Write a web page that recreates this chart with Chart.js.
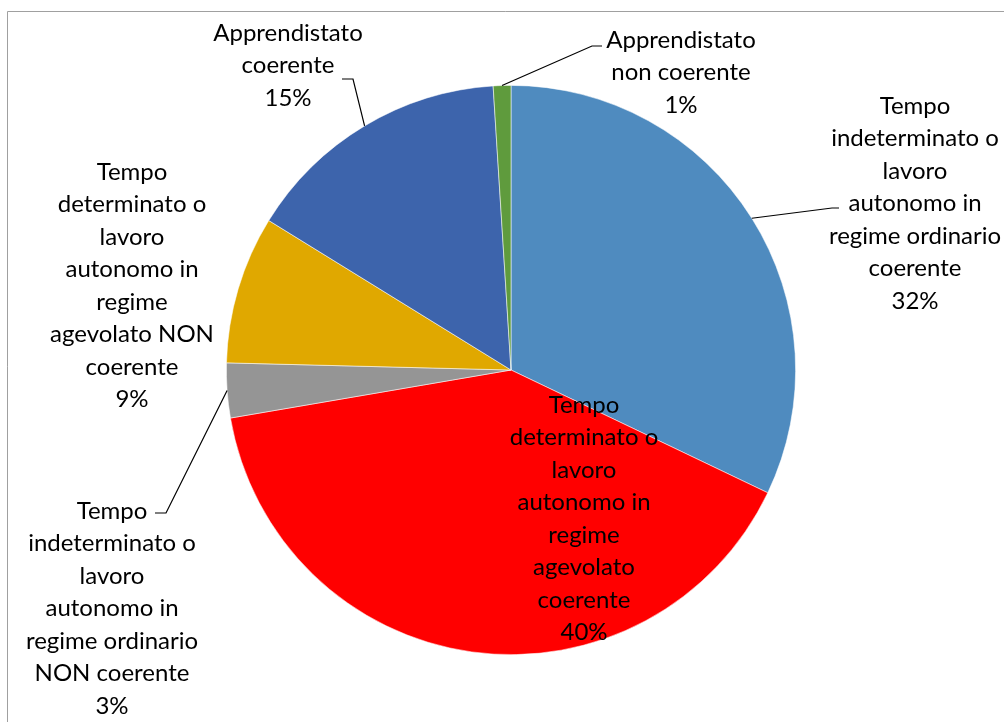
<!DOCTYPE html>
<html>
<head>
<meta charset="utf-8">
<script src="https://cdn.jsdelivr.net/npm/chart.js@4"></script>
<style>
html,body{margin:0;padding:0;background:#fff;overflow:hidden;}
#wrap{position:relative;width:1004px;height:722px;}
</style>
</head>
<body>
<div id="wrap"><canvas id="c" width="1004" height="722"></canvas></div>
<script>
const categories = [
  'Tempo indeterminato o lavoro autonomo in regime ordinario coerente',
  'Tempo determinato o lavoro autonomo in regime agevolato coerente',
  'Tempo indeterminato o lavoro autonomo in regime ordinario NON coerente',
  'Tempo determinato o lavoro autonomo in regime agevolato NON coerente',
  'Apprendistato coerente',
  'Apprendistato non coerente'
];
const labelLines = [
  ['Tempo','indeterminato o','lavoro','autonomo in','regime ordinario','coerente'],
  ['Tempo','determinato o','lavoro','autonomo in','regime','agevolato','coerente'],
  ['Tempo','indeterminato o','lavoro','autonomo in','regime ordinario','NON coerente'],
  ['Tempo','determinato o','lavoro','autonomo in','regime','agevolato NON','coerente'],
  ['Apprendistato','coerente'],
  ['Apprendistato','non coerente']
];
const values = [32.1, 40.2, 3.1, 8.4, 15.2, 1.0];
const percentLabels = ['32%','40%','3%','9%','15%','1%'];
const colors = ['#4F8BBF','#FF0000','#959595','#E0A800','#3D64AC','#5F9B3D'];

// label layout: centre x, first line centre y
const labelPos = [[915,106],[584,405],[112,511],[132,172],[288,33],[681,40]];
// leader elbows (null = no leader)
const leaders = [
  [[832,208],[839,208]],
  null,
  [[166,513],[155,513]],
  null,
  [[353,79],[342,79]],
  [[592,46],[602,46]]
];
const lineH = 32.5;
const FONT = '24px Lato, "Open Sans", sans-serif';

const framePlugin = {
  id:'frame',
  beforeDraw(chart){
    const ctx = chart.ctx;
    ctx.save();
    ctx.fillStyle = '#fff';
    ctx.fillRect(0,0,chart.width,chart.height);
    ctx.strokeStyle = '#A0A0A0';
    ctx.lineWidth = 1;
    ctx.beginPath();
    ctx.moveTo(7.5, chart.height);
    ctx.lineTo(7.5, 11.5);
    ctx.lineTo(chart.width, 11.5);
    ctx.stroke();
    ctx.restore();
  }
};

const labelPlugin = {
  id:'pieLabels',
  afterDatasetsDraw(chart){
    const ctx = chart.ctx;
    const meta = chart.getDatasetMeta(0);
    ctx.save();
    meta.data.forEach((arc, i) => {
      const p = arc.getProps(['x','y','startAngle','endAngle','outerRadius'], true);
      const mid = (p.startAngle + p.endAngle)/2;
      const ex = p.x + Math.cos(mid)*p.outerRadius;
      const ey = p.y + Math.sin(mid)*p.outerRadius;
      if (leaders[i]) {
        ctx.strokeStyle = '#000';
        ctx.lineWidth = 1.2;
        ctx.beginPath();
        ctx.moveTo(ex, ey);
        leaders[i].forEach(pt => ctx.lineTo(pt[0], pt[1]));
        ctx.stroke();
      }
      const lines = labelLines[i].concat([percentLabels[i]]);
      ctx.font = FONT;
      ctx.fillStyle = '#000';
      ctx.textAlign = 'center';
      ctx.textBaseline = 'middle';
      lines.forEach((t, k) => {
        ctx.fillText(t, labelPos[i][0], labelPos[i][1] + k*lineH);
      });
    });
    ctx.restore();
  }
};

new Chart(document.getElementById('c'), {
  type:'pie',
  data:{
    labels: categories,
    datasets:[{
      data: values,
      backgroundColor: colors,
      borderColor: 'rgba(255,255,255,0.7)',
      borderWidth: 0.75
    }]
  },
  options:{
    responsive:false,
    animation:false,
    layout:{padding:{left:226, right:208, top:85, bottom:67}},
    plugins:{legend:{display:false}, tooltip:{enabled:false}}
  },
  plugins:[framePlugin, labelPlugin]
});
</script>
</body>
</html>
